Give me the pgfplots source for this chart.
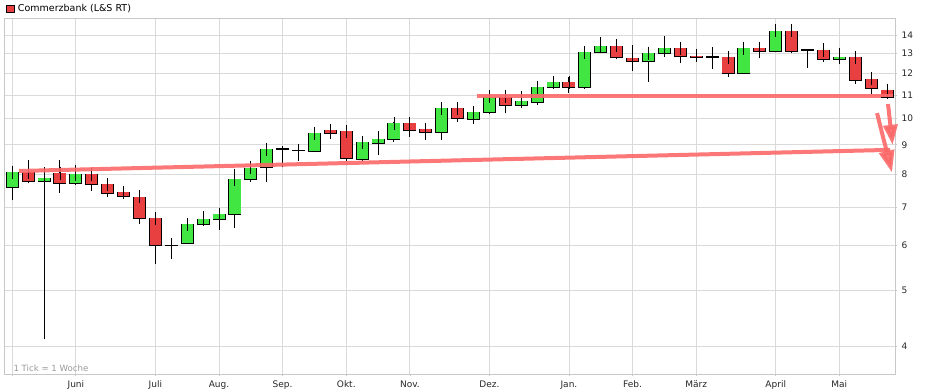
\documentclass[border=0pt]{standalone}
\usepackage{fontspec}
\setmainfont{DejaVu Sans}
\usepackage{pgfplots}
\usepackage{pgfplotstable}
\pgfplotsset{compat=1.18}
\usetikzlibrary{arrows.meta}

\definecolor{upgreen}{RGB}{66,230,66}
\definecolor{downred}{RGB}{232,64,64}
\definecolor{gridgray}{RGB}{218,218,218}
\definecolor{framegray}{RGB}{200,200,200}
\definecolor{annot}{RGB}{252,104,104}

% weekly candles: index, open, high, low, close
\pgfplotstableread{
i o h l c
0 7.58 8.16 7.21 8.06
1 8.06 8.47 7.71 7.77
2 7.77 8.22 4.11 7.87
3 8.03 8.47 7.42 7.71
4 7.69 8.30 7.65 7.99
5 7.99 8.05 7.48 7.68
6 7.68 7.75 7.30 7.40
7 7.43 7.58 7.26 7.32
8 7.30 7.38 6.54 6.69
9 6.69 6.80 5.56 5.99
10 6.00 6.18 5.69 6.00
11 6.05 6.62 6.05 6.53
12 6.53 6.89 6.49 6.67
13 6.67 6.87 6.39 6.80
14 6.80 8.16 6.43 7.83
15 7.83 8.25 7.74 8.21
16 8.21 8.96 7.76 8.84
17 8.85 8.96 8.22 8.85
18 8.80 9.03 8.44 8.80
19 8.78 9.60 8.78 9.43
20 9.55 9.71 9.23 9.43
21 9.51 9.63 8.44 8.53
22 8.49 9.14 8.44 9.09
23 9.06 9.52 8.64 9.21
24 9.21 9.88 9.11 9.82
25 9.82 9.94 9.30 9.55
26 9.59 9.76 9.18 9.45
27 9.47 10.53 9.18 10.43
28 10.43 10.50 9.88 10.02
29 9.98 10.36 9.79 10.26
30 10.26 11.00 10.18 10.93
31 10.93 11.00 10.22 10.53
32 10.53 11.17 10.48 10.73
33 10.69 11.47 10.57 11.35
34 11.35 11.69 11.30 11.58
35 11.58 11.82 11.08 11.35
36 11.35 13.20 11.28 13.07
37 13.07 13.89 13.02 13.43
38 13.43 13.51 12.71 12.81
39 12.76 13.46 12.14 12.59
40 12.59 13.14 11.61 13.02
41 13.02 13.96 12.84 13.29
42 13.29 13.37 12.51 12.84
43 12.88 13.20 12.64 12.81
44 12.81 13.33 12.21 12.81
45 12.81 12.86 11.85 12.01
46 12.01 13.52 12.01 13.29
47 13.29 13.46 12.76 13.14
48 13.11 14.49 13.07 14.25
49 14.25 14.33 13.02 13.11
50 13.20 13.20 12.29 13.20
51 13.18 13.55 12.59 12.71
52 12.71 13.29 12.71 12.82
53 12.81 12.90 11.52 11.68
54 11.74 12.01 11.05 11.28
55 11.22 11.22 10.83 10.90
}\candles

\pgfplotsset{
  wick/.style={draw=none, mark=none,
    error bars/.cd, y dir=plus, y explicit, error mark=none,
    error bar style={black, line width=1bp}},
  bodyout/.style={draw=none, mark=none,
    error bars/.cd, y dir=plus, y explicit, error mark=none,
    error bar style={black, line width=13bp}},
  bodyin/.style={draw=none, mark=-, mark size=6.5bp,
    mark options={black, line width=0.9bp},
    error bars/.cd, y dir=plus, y explicit, error mark=-,
    error mark options={black, mark size=6.5bp, line width=0.9bp},
    error bar style={#1, line width=11.2bp}},
}

\begin{document}
\begin{tikzpicture}
\path[use as bounding box] (-4bp,-17bp) rectangle (922bp,374bp);
\begin{axis}[
  at={(0,0)}, anchor=south west,
  scale only axis, width=891bp, height=356bp,
  ymode=log, ymin=3.573, ymax=15.01,
  xmin=-0.52, xmax=55.5,
  clip=false,
  ytick={4,5,6,7,8,9,10,11,12,13,14},
  yticklabels={4,5,6,7,8,9,10,11,12,13,14},
  xtick={0,4,9,13,17,21,25,30,35,39,43,48,52},
  xticklabels={,Juni,Juli,Aug.,Sep.,Okt.,Nov.,Dez.,Jan.,Feb.,März,April,Mai},
  minor tick num=0,
  ytick pos=right, yticklabel pos=right,
  xtick pos=bottom,
  tick align=outside, major tick length=2bp,
  tick style={framegray, line width=0.8bp},
  grid=major,
  major grid style={gridgray, line width=0.9bp},
  axis line style={framegray, line width=0.9bp},
  tick label style={font=\fontsize{9bp}{10bp}\selectfont, text=black!85},
  xticklabel style={yshift=-1bp},
  yticklabel style={xshift=1bp},
  /pgf/number format/assume math mode=true,
  legend style={at={(0,1)}, anchor=west, draw=none, fill=none,
    xshift=2bp, yshift=9bp, inner sep=0pt,
    font=\fontsize{9.5bp}{11bp}\selectfont,
    nodes={inner sep=1.5bp},
    /tikz/every odd column/.append style={column sep=2bp}},
  legend cell align=left,
]
\addlegendimage{legend image code/.code={\draw[draw=black, fill=downred, line width=0.7bp] (0bp,-3.7bp) rectangle (7.6bp,3.7bp);}}
\addlegendentry{Commerzbank (L\&S RT)}

% wicks (low to high)
\addplot[wick] table[x=i, y=l, y error plus expr={\thisrow{h}-\thisrow{l}}] {\candles};
% rising candles
\addplot[bodyout] table[x=i, y expr={\thisrow{c}>\thisrow{o} ? \thisrow{o} : nan}, y error plus expr={\thisrow{c}-\thisrow{o}}] {\candles};
\addplot[bodyin=upgreen] table[x=i, y expr={\thisrow{c}>\thisrow{o} ? \thisrow{o} : nan}, y error plus expr={\thisrow{c}-\thisrow{o}}] {\candles};
% falling candles
\addplot[bodyout] table[x=i, y expr={\thisrow{c}<\thisrow{o} ? \thisrow{c} : nan}, y error plus expr={\thisrow{o}-\thisrow{c}}] {\candles};
\addplot[bodyin=downred] table[x=i, y expr={\thisrow{c}<\thisrow{o} ? \thisrow{c} : nan}, y error plus expr={\thisrow{o}-\thisrow{c}}] {\candles};
% unchanged weeks (doji)
\addplot[only marks, mark=-, mark size=6.5bp, mark options={black, line width=1.8bp}] table[x=i, y expr={\thisrow{c}==\thisrow{o} ? \thisrow{o} : nan}] {\candles};

% hand-drawn trend annotations
\addplot[annot, line width=4bp, opacity=0.9] coordinates {(0.42,8.10) (55.2,8.82)};
\addplot[annot, line width=4bp, opacity=0.9] coordinates {(29.2,10.98) (55.4,10.98)};
\addplot[annot, line width=4bp, opacity=0.9, -{Triangle[width=15bp,length=22bp]}] coordinates {(54.37,10.23) (55.31,8.05)};
\addplot[annot, line width=4bp, opacity=0.9, -{Triangle[width=14bp,length=20bp]}] coordinates {(55.06,10.61) (55.35,9.0)};

\node[anchor=west, font=\fontsize{8.6bp}{10bp}\selectfont, text=black!40] at ([xshift=6bp,yshift=6bp]rel axis cs:0,0) {1 Tick = 1 Woche};
\end{axis}
\end{tikzpicture}
\end{document}
